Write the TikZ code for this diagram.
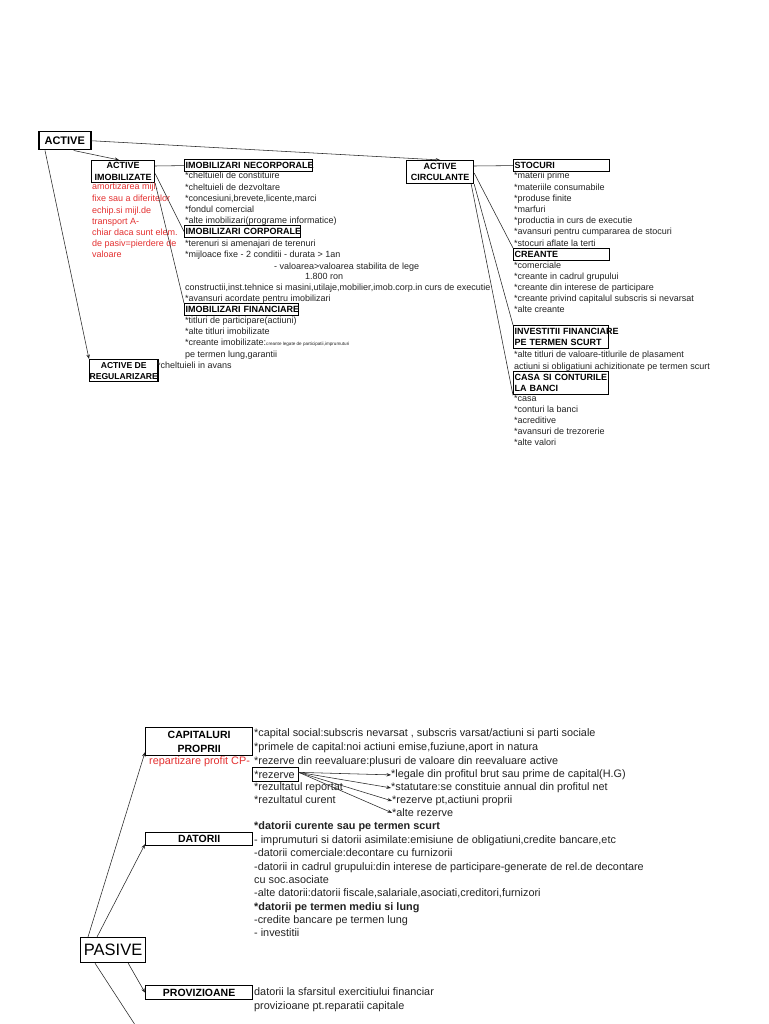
\documentclass[tikz,border=0pt]{standalone}
\usepackage{fontspec}
\setmainfont{Liberation Sans}
\usetikzlibrary{arrows.meta,calc}
\definecolor{txt}{RGB}{35,35,35}
\definecolor{redt}{RGB}{228,48,48}
\newcommand\ftop{\fontsize{9}{11.3}\selectfont}
\newcommand\ftopb{\fontsize{9}{11.5}\selectfont\bfseries}
\newcommand\fbot{\fontsize{10.85}{13.4}\selectfont}
\newcommand\ftiny{\fontsize{4.6}{5}\selectfont}
\begin{document}
\begin{tikzpicture}[x=1pt,y=-1pt,
  box/.style={draw=black, line width=1.2pt, inner sep=0pt, anchor=north west},
  cbox/.style={box, align=center},
  hd/.style={box, font=\ftopb, align=left, inner xsep=1pt, inner ysep=0pt},
  tl/.style={anchor=base west, inner sep=0pt, font=\ftop, text=txt},
  rl/.style={tl, text=redt},
  bl/.style={anchor=base west, inner sep=0pt, font=\fbot, text=txt},
  con/.style={draw=black!85, line width=0.55pt},
  arr/.style={con, -{Stealth[length=4.5pt,width=3.4pt]}}]

\useasboundingbox[fill=white] (0,0) rectangle (768,1024);

% ---------------- ACTIVE ----------------
\node[cbox, line width=1.5pt, font=\fontsize{11}{13}\selectfont\bfseries, minimum width=52pt, minimum height=18pt] (active) at (38,131) {ACTIVE};
\node[cbox, font=\ftopb, minimum width=63pt, minimum height=22pt] (aimob) at (91,160) {ACTIVE\\IMOBILIZATE};
\node[cbox, font=\ftopb, minimum width=67pt, minimum height=23pt] (acirc) at (406,160) {ACTIVE\\CIRCULANTE};
\node[cbox, font=\fontsize{8.6}{11}\selectfont\bfseries, minimum width=67pt, minimum height=22pt] (areg) at (89,359) {ACTIVE DE\\REGULARIZARE};

\node[hd, text width=126pt, minimum height=12pt] (necorp) at (184,159) {\mbox{IMOBILIZARI NECORPORALE}};
\node[hd, text width=114pt, minimum height=12pt] (corp) at (184,225) {\mbox{IMOBILIZARI CORPORALE}};
\node[hd, text width=112pt, minimum height=12pt] (finan) at (184,303) {\mbox{IMOBILIZARI FINANCIARE}};
\node[hd, text width=94pt, minimum height=12pt] (stoc) at (513,159) {\mbox{STOCURI}};
\node[hd, text width=94pt, minimum height=12pt] (crean) at (513,248) {\mbox{CREANTE}};
\node[hd, text width=93pt, minimum height=23pt] (invest) at (513,325) {\mbox{INVESTITII FINANCIARE}\\\mbox{PE TERMEN SCURT}};
\node[hd, text width=93pt, minimum height=23pt] (casa) at (513,371) {\mbox{CASA SI CONTURILE}\\\mbox{LA BANCI}};

% red note
\foreach \y/\tx [count=\i] in {187/{amortizarea mijl.}, 199/{fixe sau a diferitelor}, 211/{echip.si mijl.de}, 222/{transport A-}, 233/{chiar daca sunt elem.}, 244/{de pasiv=pierdere de}, 254/{valoare}}
  \node[rl] (r\i) at (92,\y+3) {\tx};

% middle column
\foreach \y/\tx [count=\i] in {176/{*cheltuieli de constituire}, 188/{*cheltuieli de dezvoltare}, 199/{*concesiuni,brevete,licente,marci}, 210/{*fondul comercial}, 221/{*alte imobilizari(programe informatice)}, 243/{*terenuri si amenajari de terenuri}, 254/{*mijloace fixe - 2 conditii - durata > 1an}, 287/{constructii,inst.tehnice si masini,utilaje,mobilier,imob.corp.in curs de executie}, 298/{*avansuri acordate pentru imobilizari}, 320/{*titluri de participare(actiuni)}, 331/{*alte titluri imobilizate}, 342/{*creante imobilizate:{\ftiny creante legate de participatii,imprumuturi}}, 354/{pe termen lung,garantii}}
  \node[tl] (m\i) at (185,\y+3) {\tx};
\node[tl] (val) at (274,269) {- valoarea>valoarea stabilita de lege};
\node[tl] (ron) at (305,279) {1.800 ron};
\node[tl] (avans) at (157,368) {*cheltuieli in avans};

% right column
\foreach \y/\tx [count=\i] in {176/{*materii prime}, 188/{*materiile consumabile}, 199/{*produse finite}, 210/{*marfuri}, 221/{*productia in curs de executie}, 232/{*avansuri pentru cumpararea de stocuri}, 243/{*stocuri aflate la terti}, 265/{*comerciale}, 276/{*creante in cadrul grupului}, 287/{*creante din interese de participare}, 298/{*creante privind capitalul subscris si nevarsat}, 309/{*alte creante}, 354/{*alte titluri de valoare-titlurile de plasament}, 366/{actiuni si obligatiuni achizitionate pe termen scurt}, 398/{*casa}, 409/{*conturi la banci}, 420/{*acreditive}, 431/{*avansuri de trezorerie}, 442/{*alte valori}}
  \node[tl] (c\i) at (514,\y+3) {\tx};

% connectors (top)
\draw[arr] (active.east) -- (acirc.north);
\draw[arr] ($(active.south)+(9,0)$) -- ($(aimob.north)+(-4,0)$);
\draw[arr] ($(active.south west)+(7,0)$) -- (areg.north west);
\draw[con] ($(aimob.north east)+(0,6)$) -- (necorp.west);
\draw[con] ($(aimob.east)+(0,2)$) -- (corp.west);
\draw[con] (aimob.south east) -- (finan.north west);
\draw[con] ($(acirc.north east)+(0,6)$) -- (stoc.west);
\draw[con] ($(acirc.east)+(0,1)$) -- (crean.north west);
\draw[con] (acirc.south east) -- (invest.north west);
\draw[con] ($(acirc.south east)+(-3,0)$) -- (casa.south west);

% ---------------- PASIVE ----------------
\node[cbox, font=\fontsize{16.5}{18}\selectfont, minimum width=65pt, minimum height=25pt] (pasive) at (80,937) {PASIVE};
\node[cbox, font=\fontsize{10.5}{14}\selectfont\bfseries, minimum width=107pt, minimum height=28pt] (cp) at (145,727) {CAPITALURI\\PROPRII};
\node[cbox, font=\fontsize{10.5}{13}\selectfont\bfseries, minimum width=107pt, minimum height=13pt] (dat) at (145,832) {DATORII};
\node[cbox, font=\fontsize{10.5}{13}\selectfont\bfseries, minimum width=107pt, minimum height=14pt] (prov) at (145,985) {PROVIZIOANE};

\node[bl, text=redt] (rep) at (149,764.7) {repartizare profit CP-};

\foreach \y/\tx [count=\i] in {733/{*capital social:subscris nevarsat , subscris varsat/actiuni si parti sociale}, 747/{*primele de capital:noi actiuni emise,fuziune,aport in natura}, 761/{*rezerve din reevaluare:plusuri de valoare din reevaluare active}, 787/{*rezultatul reportat}, 800/{*rezultatul curent}}
  \node[bl] (p\i) at (254,\y+3.7) {\tx};
\node[draw=black, line width=0.7pt, anchor=north west, inner xsep=2pt, inner ysep=0pt, text width=42pt, align=left, minimum height=14pt, font=\fbot, text=txt] (rez) at (252,767) {*rezerve};

\node[bl] (leg) at (391,777.7) {*legale din profitul brut sau prime de capital(H.G)};
\node[bl] (stat) at (391,790.7) {*statutare:se constituie annual din profitul net};
\node[bl] (rpt) at (392,803.7) {*rezerve pt,actiuni proprii};
\node[bl] (alt) at (392,816.7) {*alte rezerve};
\foreach \n in {leg,stat,rpt,alt}
  \draw[arr] ($(rez.east)+(0,-2)$) -- (\n.west);

\foreach \y/\tx [count=\i] in {826/{\bfseries *datorii curente sau pe termen scurt}, 840/{- imprumuturi si datorii asimilate:emisiune de obligatiuni,credite bancare,etc}, 853/{-datorii comerciale:decontare cu furnizorii}, 867/{-datorii in cadrul grupului:din interese de participare-generate de rel.de decontare}, 880/{cu soc.asociate}, 893/{-alte datorii:datorii fiscale,salariale,asociati,creditori,furnizori}, 907/{\bfseries *datorii pe termen mediu si lung}, 920/{-credite bancare pe termen lung}, 933/{- investitii}}
  \node[bl] (d\i) at (254,\y+3.7) {\tx};

\node[bl] (pv1) at (254,995.7) {datorii la sfarsitul exercitiului financiar};
\node[bl] (pv2) at (254,1009.7) {provizioane pt.reparatii capitale};

% connectors (bottom)
\coordinate (offpg) at (141,1034);
\draw[arr] ($(pasive.north west)+(8,0)$) -- ($(cp.south west)+(0,-4)$);
\draw[arr] ($(pasive.north west)+(17,0)$) -- ($(dat.south west)+(0,-2)$);
\draw[arr] ($(pasive.south east)+(-18,0)$) -- (prov.west);
\draw[con] ($(pasive.south west)+(15,0)$) -- (offpg);
\end{tikzpicture}
\end{document}
